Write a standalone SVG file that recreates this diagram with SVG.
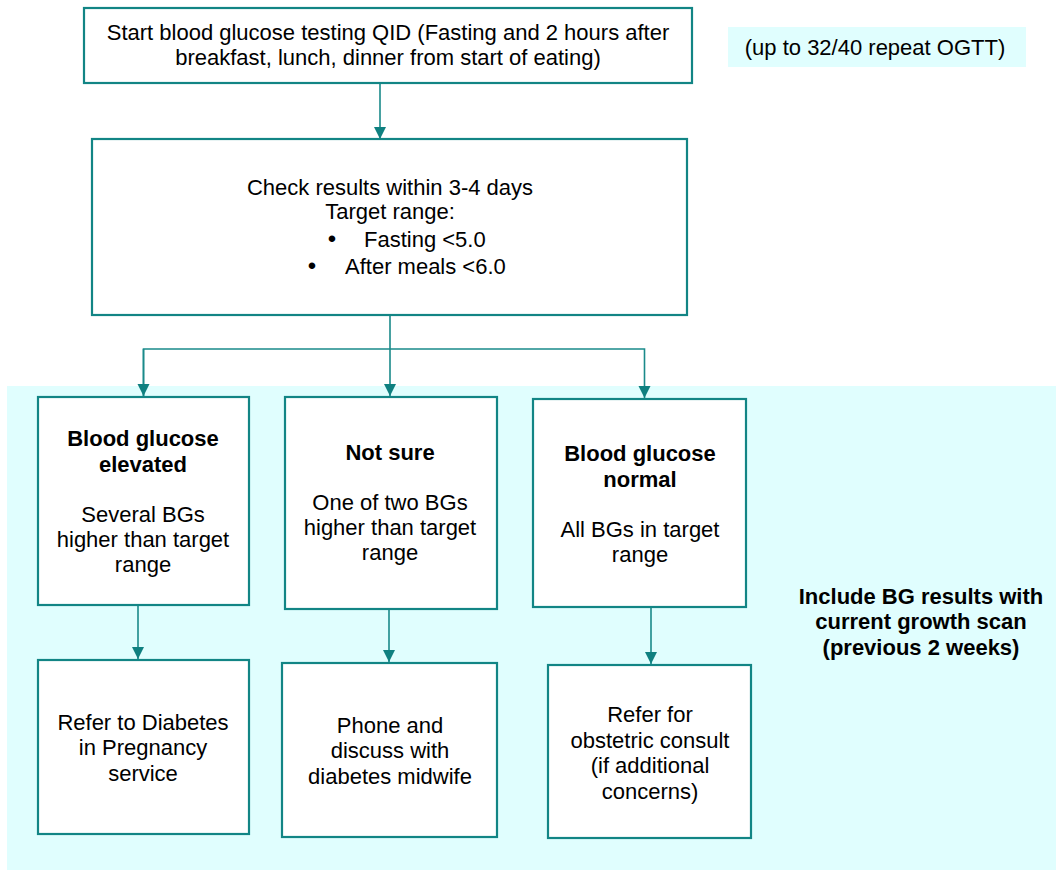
<svg xmlns="http://www.w3.org/2000/svg" width="1056" height="870" viewBox="0 0 1056 870">
<defs>
<style>
.box{fill:#ffffff;stroke:#128585;stroke-width:2.2}
.bg{fill:#E0FEFE}
.t{font-family:"Liberation Sans",Arial,sans-serif;font-size:22px;fill:#000;text-anchor:middle}
.s{text-anchor:start}
.b{font-weight:bold}
.bu{font-size:24px}
.c{fill:none;stroke:#1a8a8a;stroke-width:1.6}
</style>
<marker id="ah" markerUnits="userSpaceOnUse" markerWidth="13" markerHeight="13" refX="12" refY="6" orient="auto">
<path d="M0,0 L12,6 L0,12 Z" fill="#0f8080"/>
</marker>
</defs>
<rect width="1056" height="870" fill="#ffffff"/>
<rect class="bg" x="7" y="386" width="1049" height="484"/>
<g id="note">
<rect class="bg" x="728" y="27" width="298" height="40"/>
<text class="t" x="875" y="55">(up to 32/40 repeat OGTT)</text>
</g>
<g id="connectors">
<line class="c" x1="380" y1="83" x2="380" y2="139" marker-end="url(#ah)"/>
<line class="c" x1="390" y1="315" x2="390" y2="396" marker-end="url(#ah)"/>
<polyline class="c" points="143.5,396 143.5,349 644.5,349 644.5,398" marker-end="url(#ah)"/>
<line class="c" x1="143.5" y1="349" x2="143.5" y2="396" marker-end="url(#ah)"/>
<line class="c" x1="138" y1="605" x2="138" y2="659" marker-end="url(#ah)"/>
<line class="c" x1="389" y1="609" x2="389" y2="662" marker-end="url(#ah)"/>
<line class="c" x1="651" y1="607" x2="651" y2="664" marker-end="url(#ah)"/>
</g>
<g id="start">
<rect class="box" x="84" y="8" width="608" height="75"/>
<text class="t" x="388" y="40">Start blood glucose testing QID (Fasting and 2 hours after</text>
<text class="t" x="388" y="65">breakfast, lunch, dinner from start of eating)</text>
</g>
<g id="check">
<rect class="box" x="92" y="139" width="595" height="176"/>
<text class="t" x="390" y="195">Check results within 3-4 days</text>
<text class="t" x="390" y="219">Target range:</text>
<text class="t bu" x="332" y="247">•</text>
<text class="t s" x="364" y="247">Fasting &lt;5.0</text>
<text class="t bu" x="312" y="274">•</text>
<text class="t s" x="345" y="274">After meals &lt;6.0</text>
</g>
<g id="elevated">
<rect class="box" x="38" y="397" width="211" height="208"/>
<text class="t b" x="143" y="446">Blood glucose</text>
<text class="t b" x="143" y="472">elevated</text>
<text class="t" x="143" y="522">Several BGs</text>
<text class="t" x="143" y="547">higher than target</text>
<text class="t" x="143" y="572">range</text>
</g>
<g id="notsure">
<rect class="box" x="285" y="397" width="212" height="212"/>
<text class="t b" x="390" y="460">Not sure</text>
<text class="t" x="390" y="510">One of two BGs</text>
<text class="t" x="390" y="535">higher than target</text>
<text class="t" x="390" y="560">range</text>
</g>
<g id="normal">
<rect class="box" x="533" y="399" width="213" height="208"/>
<text class="t b" x="640" y="461">Blood glucose</text>
<text class="t b" x="640" y="487">normal</text>
<text class="t" x="640" y="537">All BGs in target</text>
<text class="t" x="640" y="562">range</text>
</g>
<g id="refer-dip">
<rect class="box" x="38" y="660" width="211" height="174"/>
<text class="t" x="143" y="730">Refer to Diabetes</text>
<text class="t" x="143" y="755">in Pregnancy</text>
<text class="t" x="143" y="781">service</text>
</g>
<g id="phone">
<rect class="box" x="282" y="663" width="215" height="174"/>
<text class="t" x="390" y="733">Phone and</text>
<text class="t" x="390" y="758">discuss with</text>
<text class="t" x="390" y="784">diabetes midwife</text>
</g>
<g id="obstetric">
<rect class="box" x="548" y="665" width="203" height="173"/>
<text class="t" x="650" y="722">Refer for</text>
<text class="t" x="650" y="748">obstetric consult</text>
<text class="t" x="650" y="773">(if additional</text>
<text class="t" x="650" y="799">concerns)</text>
</g>
<g id="include">
<text class="t b" x="921" y="604">Include BG results with</text>
<text class="t b" x="921" y="629">current growth scan</text>
<text class="t b" x="921" y="655">(previous 2 weeks)</text>
</g>
</svg>
